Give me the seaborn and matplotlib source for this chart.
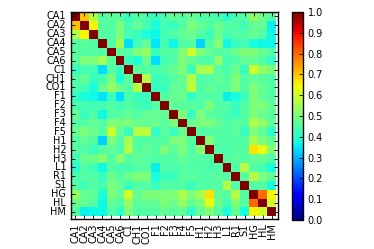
import numpy as np
import pandas as pd
import seaborn as sns
import matplotlib
matplotlib.use("Agg")
import matplotlib.pyplot as plt

labels = ["CA1", "CA2", "CA3", "CA4", "CA5", "CA6", "C1", "CH1", "CO1",
          "F1", "F2", "F3", "F4", "F5", "H1", "H2", "H3", "L1", "R1", "S1",
          "HG", "HL", "HM"]

# upper triangle of the correlation matrix, row by row (values right of the diagonal)
upper = [
    [0.70, 0.57, 0.45, 0.46, 0.46, 0.42, 0.45, 0.44, 0.41, 0.44, 0.47, 0.45, 0.48, 0.45, 0.45, 0.43, 0.40, 0.44, 0.45, 0.53, 0.48, 0.45],
    [0.65, 0.46, 0.45, 0.50, 0.43, 0.47, 0.43, 0.38, 0.43, 0.42, 0.45, 0.50, 0.47, 0.45, 0.48, 0.45, 0.45, 0.43, 0.47, 0.47, 0.36],
    [0.45, 0.45, 0.50, 0.43, 0.42, 0.38, 0.37, 0.43, 0.45, 0.47, 0.48, 0.45, 0.42, 0.48, 0.43, 0.45, 0.45, 0.47, 0.45, 0.37],
    [0.45, 0.55, 0.34, 0.43, 0.47, 0.35, 0.43, 0.37, 0.45, 0.45, 0.33, 0.45, 0.51, 0.37, 0.42, 0.43, 0.38, 0.37, 0.37],
    [0.46, 0.45, 0.50, 0.53, 0.42, 0.45, 0.45, 0.50, 0.60, 0.50, 0.47, 0.45, 0.45, 0.48, 0.50, 0.50, 0.47, 0.45],
    [0.42, 0.39, 0.48, 0.34, 0.43, 0.45, 0.50, 0.47, 0.45, 0.44, 0.52, 0.43, 0.45, 0.47, 0.47, 0.45, 0.41],
    [0.46, 0.45, 0.44, 0.45, 0.47, 0.50, 0.42, 0.55, 0.56, 0.45, 0.44, 0.48, 0.42, 0.60, 0.53, 0.50],
    [0.57, 0.42, 0.43, 0.45, 0.48, 0.57, 0.45, 0.45, 0.47, 0.45, 0.50, 0.45, 0.47, 0.46, 0.45],
    [0.42, 0.42, 0.47, 0.47, 0.58, 0.45, 0.47, 0.45, 0.46, 0.50, 0.45, 0.50, 0.47, 0.45],
    [0.45, 0.47, 0.48, 0.41, 0.45, 0.45, 0.45, 0.36, 0.38, 0.42, 0.50, 0.47, 0.45],
    [0.47, 0.46, 0.46, 0.45, 0.50, 0.45, 0.45, 0.42, 0.45, 0.50, 0.50, 0.47],
    [0.50, 0.42, 0.50, 0.46, 0.45, 0.44, 0.42, 0.45, 0.50, 0.48, 0.46],
    [0.47, 0.50, 0.50, 0.47, 0.45, 0.46, 0.45, 0.56, 0.53, 0.47],
    [0.45, 0.45, 0.45, 0.45, 0.46, 0.42, 0.50, 0.47, 0.41],
    [0.51, 0.45, 0.45, 0.45, 0.45, 0.55, 0.50, 0.47],
    [0.45, 0.44, 0.45, 0.45, 0.67, 0.63, 0.51],
    [0.45, 0.46, 0.45, 0.47, 0.48, 0.45],
    [0.45, 0.57, 0.45, 0.43, 0.38],
    [0.45, 0.57, 0.50, 0.47],
    [0.45, 0.45, 0.38],
    [0.80, 0.65],
    [0.60],
]

n = len(labels)
mat = np.eye(n)
for i, row in enumerate(upper):
    mat[i, i + 1:] = row
    mat[i + 1:, i] = row
df = pd.DataFrame(mat, index=labels, columns=labels)

fig = plt.figure(figsize=(3.74, 2.49), dpi=100)
ax = fig.add_axes([71 / 374, 1 - 218.5 / 249, 207 / 374, 206.5 / 249])
cax = fig.add_axes([292 / 374, 1 - 220 / 249, 11 / 374, 208 / 249])

sns.heatmap(df, cmap="jet", vmin=0, vmax=1, ax=ax, cbar_ax=cax,
            xticklabels=labels, yticklabels=labels, linewidths=0)

# axes run a little past the last cell, like the original pcolor plot
ax.set_xlim(0, n + 0.22)
ax.set_ylim(n + 0.25, 0)

for s in ax.spines.values():
    s.set_visible(True)
    s.set_color("black")
    s.set_linewidth(1)
ax.tick_params(direction="in", length=3, width=0.6, top=True, right=True,
               labelsize=7, colors="black")
ax.set_xticklabels(labels, rotation=90, fontsize=7)
ax.set_yticklabels(labels, rotation=0, fontsize=7)

cb = ax.collections[0].colorbar
cb.set_ticks(np.arange(0, 1.01, 0.1))
cb.set_ticklabels([f"{v:.1f}" for v in np.arange(0, 1.01, 0.1)])
cb.outline.set_visible(True)
cb.outline.set_linewidth(1)
cb.outline.set_edgecolor("black")
cax.tick_params(direction="in", length=3, width=0.6, labelsize=7)

fig.savefig("out.png", dpi=100)
